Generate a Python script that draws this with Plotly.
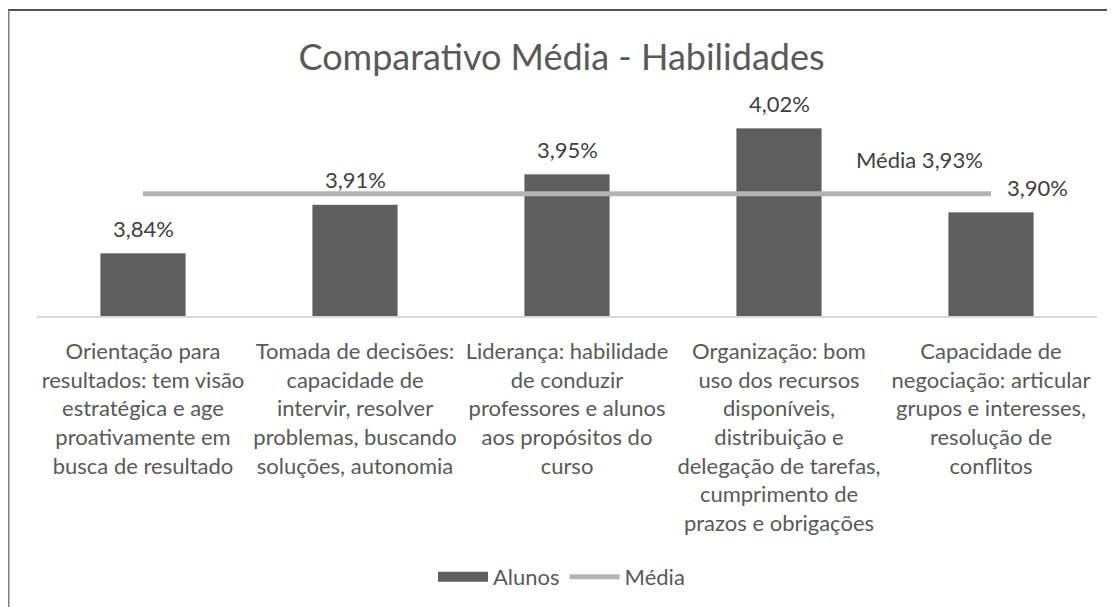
import plotly.graph_objects as go

categories = [
    "Orientação para<br>resultados: tem visão<br>estratégica e age<br>proativamente em<br>busca de resultado",
    "Tomada de decisões:<br>capacidade de<br>intervir, resolver<br>problemas, buscando<br>soluções, autonomia",
    "Liderança: habilidade<br>de conduzir<br>professores e alunos<br>aos propósitos do<br>curso",
    "Organização: bom<br>uso dos recursos<br>disponíveis,<br>distribuição e<br>delegação de tarefas,<br>cumprimento de<br>prazos e obrigações",
    "Capacidade de<br>negociação: articular<br>grupos e interesses,<br>resolução de<br>conflitos",
]
alunos = [3.84, 3.91, 3.954, 4.02, 3.899]
media_value = 3.926
media = [media_value] * len(categories)
label_xshift = [0, 0, 0, 0, 46]

OFF = 8  # page body margin
W, H = 1115 - OFF, 607 - OFF
L, T = 37 - OFF, 100 - OFF
PLOT_W, PLOT_H = 1060, 216
R = W - L - PLOT_W
B = H - T - PLOT_H
FONT = "Lato"
y_min = 3.75
px_per_unit = 694
y_max = y_min + PLOT_H / px_per_unit

fig = go.Figure()
fig.add_trace(go.Bar(
    x=categories, y=alunos, name="Alunos", width=0.4, showlegend=False,
    marker=dict(color="#5E5E5E", line=dict(color="#7A7A7A", width=0.5)),
))
# legend proxy for the bar series (wide swatch as in the reference)
fig.add_trace(go.Scatter(
    x=[None], y=[None], name="Alunos", mode="lines",
    line=dict(color="#5E5E5E", width=13),
))
fig.add_trace(go.Scatter(
    x=categories, y=media, name="Média", mode="lines",
    line=dict(color="#B4B4B4", width=5),
))

for c, v, xs in zip(categories, alunos, label_xshift):
    fig.add_annotation(
        x=c, y=v, text=f"{v:.2f}%".replace(".", ","), showarrow=False,
        yanchor="middle", yshift=25, xshift=xs,
        font=dict(family=FONT, size=22, color="#404040"),
    )
fig.add_annotation(
    x=categories[-1], y=media_value, text=f"Média {media_value:.2f}%".replace(".", ","),
    showarrow=False, yanchor="middle", xshift=-72, yshift=34,
    font=dict(family=FONT, size=22, color="#404040"),
)

def px_to_paper_x(px):
    return (px - OFF - L) / PLOT_W

def px_to_paper_y(py):
    return (H - B - (py - OFF)) / PLOT_H

# chart frame (top and left edges visible)
fig.add_shape(type="line", xref="paper", yref="paper",
              x0=px_to_paper_x(8), x1=px_to_paper_x(1120),
              y0=px_to_paper_y(10), y1=px_to_paper_y(10),
              line=dict(color="#1A1A1A", width=1.5))
fig.add_shape(type="line", xref="paper", yref="paper",
              x0=px_to_paper_x(8.5), x1=px_to_paper_x(8.5),
              y0=px_to_paper_y(10), y1=px_to_paper_y(610),
              line=dict(color="#7F7F7F", width=2))

fig.update_layout(
    width=W, height=H,
    margin=dict(l=L, r=R, t=T, b=B),
    plot_bgcolor="white", paper_bgcolor="white",
    title=dict(text="Comparativo Média - Habilidades", x=0.5, xanchor="center",
               y=1 - (57 - OFF) / H, yanchor="middle", yref="container",
               font=dict(family=FONT, size=36, color="#595959")),
    xaxis=dict(showline=True, linecolor="#D9D9D9", linewidth=1.5,
               showgrid=False, ticks="", ticklabelstandoff=15,
               tickfont=dict(family=FONT, size=22, color="#595959")),
    yaxis=dict(range=[y_min, y_max], visible=False, showgrid=False),
    legend=dict(orientation="h", x=0.5, xanchor="center", xref="container",
                y=1 - (577 - OFF) / H, yanchor="middle", yref="container",
                font=dict(family=FONT, size=22, color="#595959"),
                itemwidth=50, traceorder="normal"),
    showlegend=True,
    font=dict(family=FONT),
)

fig.write_html("out.html")
